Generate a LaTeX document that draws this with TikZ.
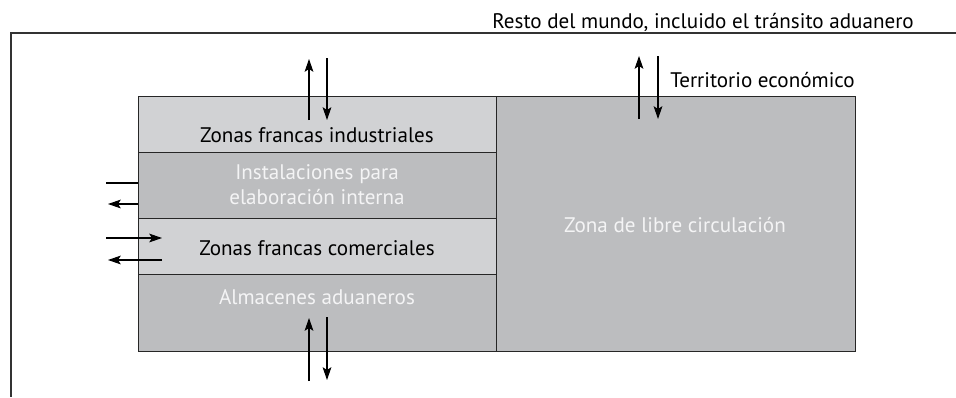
\documentclass[tikz,border=0pt]{standalone}
\usepackage{fontspec}
\setmainfont{PT Sans}
\usepackage{tikz}
\usetikzlibrary{arrows.meta, positioning}

\definecolor{zonelight}{HTML}{D1D2D4}
\definecolor{zonedark}{HTML}{BCBDBF}
\definecolor{zonetext}{HTML}{F4F4F5}

\tikzset{
    zonefill/.style={draw=black!85, line width=0.6pt},
    flow/.style={line width=0.75pt, -{Stealth[length=0.32cm, width=0.22cm, inset=0.07cm]}},
    darktext/.style={font=\fontsize{15}{18}\selectfont, text=black, inner sep=0pt},
    lighttext/.style={font=\fontsize{15}{18}\selectfont, text=zonetext, align=center, inner sep=0pt}
}

\begin{document}
\begin{tikzpicture}
                    \useasboundingbox (0, 0) rectangle (23.9, -9.925);

                    % outer frame
                    \draw[line width=0.9pt, black!80]
                    (23.9, -0.825) -- (0.275, -0.825) -- (0.275, -9.925);

                    % zones
                    \draw[zonefill, fill=zonedark] (12.4, -2.4) rectangle (21.375, -8.775);
                    \draw[zonefill, fill=zonelight] (3.45, -2.4) rectangle (12.4, -3.8);
                    \draw[zonefill, fill=zonedark] (3.45, -3.8) rectangle (12.4, -5.45);
                    \draw[zonefill, fill=zonelight] (3.45, -5.45) rectangle (12.4, -6.85);
                    \draw[zonefill, fill=zonedark] (3.45, -6.85) rectangle (12.4, -8.775);

                    \node[darktext, anchor=east] (resto) at (22.85, -0.55) {Resto del mundo, incluido el tránsito aduanero};
                    \node[darktext, anchor=west] (territorio) at (16.75, -2.0) {Territorio económico};

                    \node[darktext] (industriales) at (7.925, -3.375) {Zonas francas industriales};
                    \node[lighttext] (instalaciones) at (7.925, -4.625) {Instalaciones para\\elaboración interna};
                    \node[darktext] (comerciales) at (7.925, -6.2) {Zonas francas comerciales};
                    \node[lighttext] (almacenes) at (7.925, -7.425) {Almacenes aduaneros};
                    \node[lighttext] (libre) at (16.875, -5.625) {Zona de libre circulación};

                    % arrow ends
                    \coordinate (indA) at (7.725, -3.0);
                    \coordinate (indB) at (7.725, -1.475);
                    \coordinate (indC) at (8.175, -1.45);
                    \coordinate (indD) at (8.175, -3.0);

                    \coordinate (terA) at (15.975, -2.975);
                    \coordinate (terB) at (15.975, -1.4);
                    \coordinate (terC) at (16.45, -1.4);
                    \coordinate (terD) at (16.45, -2.975);

                    \coordinate (insA) at (2.65, -4.575);
                    \coordinate (insB) at (3.45, -4.575);
                    \coordinate (insC) at (3.45, -5.1);
                    \coordinate (insD) at (2.7, -5.1);

                    \coordinate (comA) at (2.65, -5.95);
                    \coordinate (comB) at (4.05, -5.95);
                    \coordinate (comC) at (4.05, -6.5);
                    \coordinate (comD) at (2.7, -6.5);

                    \coordinate (almA) at (7.725, -9.525);
                    \coordinate (almB) at (7.725, -7.95);
                    \coordinate (almC) at (8.175, -7.925);
                    \coordinate (almD) at (8.175, -9.5);

                    \draw[flow] (indA) -- (indB);
                    \draw[flow] (indC) -- (indD);
                    \draw[flow] (terA) -- (terB);
                    \draw[flow] (terC) -- (terD);
                    \draw[line width=0.75pt] (insA) -- (insB);
                    \draw[flow] (insC) -- (insD);
                    \draw[flow] (comA) -- (comB);
                    \draw[flow] (comC) -- (comD);
                    \draw[flow] (almA) -- (almB);
                    \draw[flow] (almC) -- (almD);
                \end{tikzpicture}
\end{document}
